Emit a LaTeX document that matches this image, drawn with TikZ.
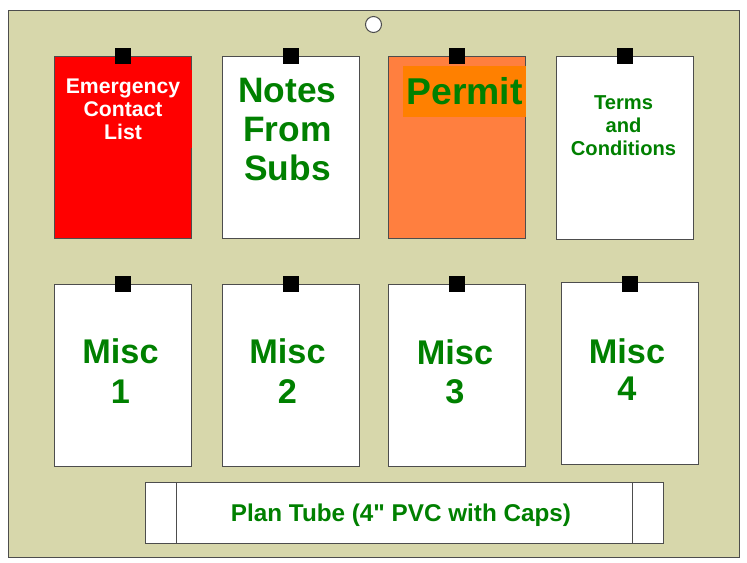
\documentclass[tikz,border=0pt]{standalone}
\usepackage{fontspec}
\setmainfont{Liberation Sans}[BoldFont={Liberation Sans Bold}]
\newfontfamily\tubefont{Liberation Sans Bold}
\definecolor{board}{HTML}{D7D7AB}
\definecolor{edgegray}{HTML}{4D4D4D}
\definecolor{txtgreen}{HTML}{008000}
\definecolor{permitbg}{HTML}{FF7F3F}
\definecolor{permithi}{HTML}{FF8000}
\begin{document}
\begin{tikzpicture}[x=0.75pt,y=-0.75pt,
  panel/.style={draw=edgegray,line width=0.75pt},
  pin/.style={fill=black,draw=none},
  cardtext/.style={align=center,text=txtgreen,font=\bfseries,inner sep=0pt},
  misctext/.style={cardtext,font=\fontsize{25.7}{#1}\selectfont\bfseries}]
\useasboundingbox (0,0) rectangle (747,562);
\fill[white] (0,0) rectangle (747,562);
\draw[panel,fill=board] (8.5,10.5) rectangle (739.5,557);
\node[circle,draw=edgegray,line width=0.75pt,fill=white,minimum size=12pt,inner sep=0pt] (hole) at (373.5,24.5) {};
% cards
\draw[panel,fill=red] (54.5,56.5) rectangle (191.5,238);
\fill[red] (70,70) rectangle (192.2,148);
\draw[panel,fill=white] (222,56.5) rectangle (359,238);
\draw[panel,fill=permitbg] (388.5,56.5) rectangle (525.5,238);
\fill[permithi] (403,66) rectangle (526.2,117);
\draw[panel,fill=white] (556,56.5) rectangle (693,239);
\draw[panel,fill=white] (54.5,284) rectangle (191.5,466.5);
\draw[panel,fill=white] (222,284) rectangle (359,466.5);
\draw[panel,fill=white] (388.5,284) rectangle (525.5,466.5);
\draw[panel,fill=white] (561,282.5) rectangle (698,464.5);
% pins
\foreach \x/\y in {115/48,282.5/48,449.3/48,616.8/48,115/276,282.5/276,449.3/276,622/275.5}
  \fill[pin] (\x,\y) rectangle ++(16,16);
% tube
\draw[panel,fill=white] (145.5,482.5) rectangle (663,543);
\draw[panel] (176,482.5) -- (176,543);
\draw[panel] (632.5,482.5) -- (632.5,543);
% labels
\node[cardtext,text=white,font=\fontsize{15.9}{17.2}\selectfont\bfseries] (emerg) at (123,109) {Emergency\\Contact\\List};
\node[cardtext,font=\fontsize{26.5}{29.6}\selectfont\bfseries] (notes) at (287.5,129.5) {Notes\\From\\Subs};
\node[cardtext,font=\fontsize{28}{30}\selectfont\bfseries] (permit) at (464.5,91) {Permit};
\node[cardtext,font=\fontsize{15.1}{17}\selectfont\bfseries] (terms) at (623.5,125.5) {Terms\\and\\Conditions};
\node[misctext=30] (m1) at (120.5,371) {Misc\\1};
\node[misctext=30] (m2) at (287.5,371) {Misc\\2};
\node[misctext=29] (m3) at (455,372) {Misc\\3};
\node[misctext=28] (m4) at (627,369.5) {Misc\\4};
\node[cardtext,font=\fontsize{18.2}{20}\selectfont\tubefont] (tube) at (401,515.5) {Plan Tube (4" PVC with Caps)};
\end{tikzpicture}
\end{document}
